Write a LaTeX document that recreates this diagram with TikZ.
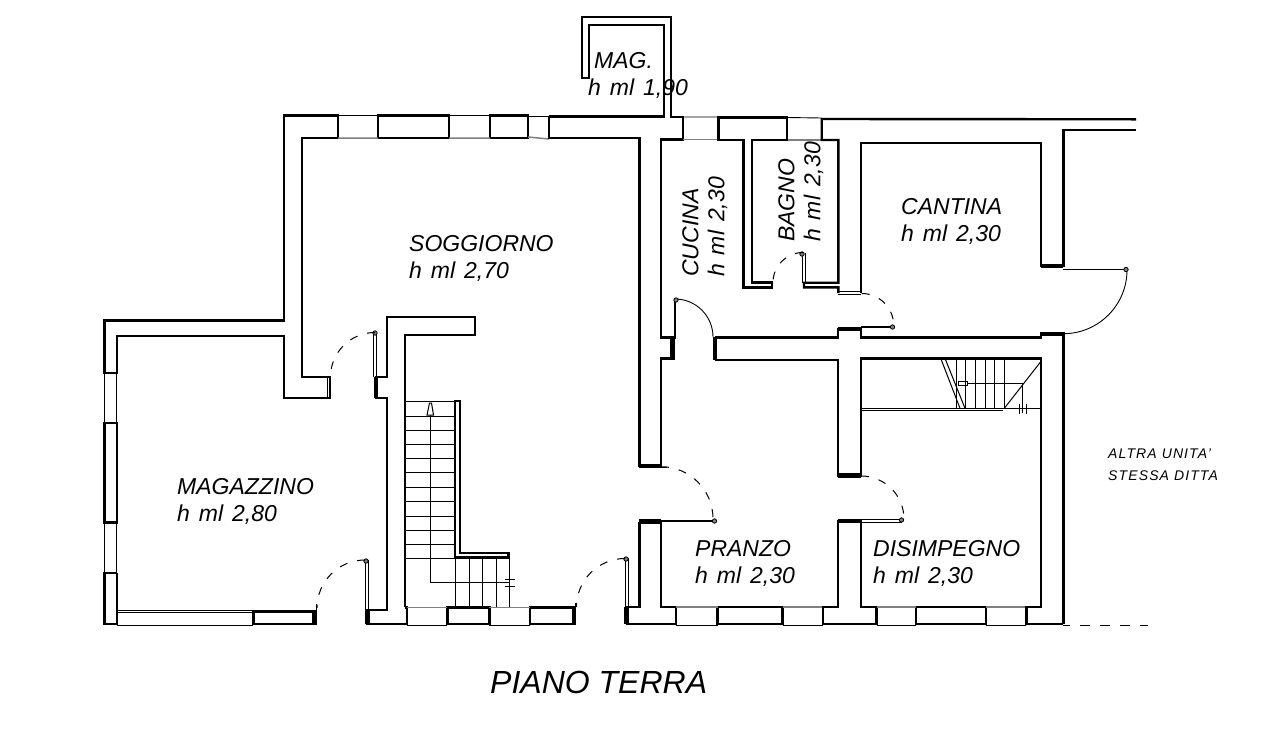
\documentclass[tikz,border=0pt]{standalone}
\usepackage{fontspec}
\setmainfont{Liberation Sans}
\newfontfamily\labelfont[WordSpace=1.4]{Liberation Sans}
\tikzset{
    wall/.style={line width=2.4pt,line join=miter},
    wallend/.style={line width=4.5pt},
    sill/.style={line width=0.9pt},
    glass/.style={line width=1.5pt,black!50},
    leaf/.style={line width=1.8pt},
    swing/.style={line width=0.9pt},
    swingdash/.style={line width=1pt,dash pattern=on 8pt off 10pt},
    stair/.style={line width=1pt},
    hinge/.style={line width=0.8pt,fill=black!50},
    roomlabel/.style={anchor=north west,inner sep=0pt,align=left,
        font=\fontsize{23}{27}\selectfont\labelfont\itshape},
    sidelabel/.style={roomlabel,rotate=90,
        font=\fontsize{23}{26}\selectfont\labelfont\itshape},
}

\begin{document}
\begin{tikzpicture}[x=1pt,y=1pt,yscale=-1]

\useasboundingbox (0,0) rectangle (1280,745);

% Magazzino
\draw [wall] (338,115.5) -- (284,115.5) -- (284,320.5) -- (104.5,320.5)
    -- (104.5,373) -- (117,373) -- (117,335.7) -- (284,335.7) -- (284,397.7)
    -- (330,397.7) -- (330,376.7) -- (301.7,376.7) -- (301.7,138) -- (338,138) -- cycle;
\draw [wall] (104.5,423) rectangle (117,522.5);
\draw [wall] (117,573) -- (104.5,573) -- (104.5,624) -- (117,624) -- (117,573);
\draw [wall] (117,611.5) -- (117,624);
\draw [wall] (253.3,611.5) rectangle (316,624);
\draw [wallend] (314.5,611.5) -- (314.5,624);
\draw [sill] (104.5,373) -- (104.5,423) (104.5,522.5) -- (104.5,573);
\draw [sill] (116,373) -- (116,423) (116,522.5) -- (116,573);
\draw [sill] (117,612.5) -- (253.3,612.5) (117,625) -- (253.3,625);
\draw [sill] (117,610) -- (253.3,610) (327,376.7) -- (327,397.7);
\draw [sill] (316.7,604) -- (316.7,611.5);

% Soggiorno
\draw [wall] (378,115.5) rectangle (449,138);
\draw [wall] (490,115.5) rectangle (528,138);
\draw [sill] (338,115.5) -- (378,115.5) (449,115.5) -- (490,115.5) (528,116) -- (549,116);
\draw [glass] (338,138) -- (378,138) (449,138) -- (490,138) (528,137) -- (549,139);
\draw [wall] (549,116.5) -- (549,138) -- (639.3,138) -- (639.3,466.7);
\draw [wallend] (639.3,466.2) -- (661,466.2);
\draw [sill] (661,467.5) -- (667,467.5);

% Mag.
\draw [wall] (549,116.5) -- (664,116.5) -- (664,25) -- (589,25) -- (589,78)
    -- (581.7,78) -- (581.7,16.7) -- (671,16.7) -- (671,116.7) -- (682.7,116.7)
    -- (682.7,139.5) -- (660.7,139.5) -- (660.7,337.3) -- (675,337.3) -- (675,300);

% Scala
\draw [wall] (405,607.3) -- (405,335) -- (475,335) -- (475,316.7) -- (386.7,316.7)
    -- (386.7,376.7) -- (376,376.7) -- (376,397.7) -- (386.7,397.7) -- (386.7,610)
    -- (367.3,610) -- (367.3,624) -- (406.7,624) -- (406.7,607.3) -- (405,607.3);
\draw [wallend] (376,376.7) -- (376,397.7) (367.3,610) -- (367.3,624);
\draw [wall] (455,557.3) -- (455,401) -- (460,401) -- (460,552.7) -- (508.3,552.7)
    -- (508.3,557.3) -- cycle;
\draw [stair] (405,401.7) -- (455,401.7) (405,416) -- (455,416) (405,430) -- (455,430)
    (405,444.3) -- (455,444.3) (405,458.7) -- (455,458.7) (405,472.7) -- (455,472.7)
    (405,487.7) -- (455,487.7) (405,501.7) -- (455,501.7) (405,516) -- (455,516)
    (405,530) -- (455,530) (405,544.3) -- (455,544.3) (405,558.3) -- (455,558.3);
\draw [stair] (455,557.3) -- (455,607.3) (469.3,557.3) -- (469.3,607.3)
    (482.3,557.3) -- (482.3,607.3) (496,557.3) -- (496,607.3) (509,557.3) -- (509,607.3);
\draw [stair] (430.7,415) -- (430.7,582.7) -- (509,582.7);
\draw [stair] (505,579.5) -- (515,579.5) (505,586) -- (515,586);
\draw [stair,fill=white] (427,415) -- (433.5,415) -- (431.5,403) -- (429.5,403) -- cycle;
\draw [wall] (447.3,607.3) rectangle (489.3,624);
\draw [wall] (530,607.3) rectangle (575,624);
\draw [wallend] (574,607.3) -- (574,624);
\draw [sill] (406.7,625.5) -- (447.3,625.5) (489.3,625.5) -- (530,625.5);
\draw [glass] (406.7,607.3) -- (447.3,607.3) (489.3,607.3) -- (530,607.3);
\draw [sill] (575.7,603) -- (575.7,607.3);

% Pranzo
\draw [wall] (639.3,521.7) -- (639.3,607) -- (626.7,607) -- (626.7,624) -- (676,624)
    -- (676,607) -- (661,607) -- (661,521.7);
\draw [wallend] (639.3,521.7) -- (661,521.7) (626.7,607) -- (626.7,624);
\draw [wall] (717.5,607) rectangle (782.5,624);
\draw [sill] (676,625.5) -- (717.5,625.5) (782.5,625.5) -- (823,625.5);
\draw [glass] (676,607) -- (717.5,607) (782.5,607) -- (823,607);

% Disimpegno
\draw [wall] (823,607) -- (838,607) -- (838,521) -- (861,521) -- (861,607)
    -- (876.5,607) -- (876.5,624) -- (823,624) -- cycle;
\draw [wallend] (838,521) -- (861,521);
\draw [wall] (916,607) rectangle (985.7,624);
\draw [sill] (876.5,625.5) -- (916,625.5) (985.7,625.5) -- (1026.3,625.5);
\draw [glass] (876.5,607) -- (916,607) (985.7,607) -- (1026.3,607);
\draw [wall] (715,360) -- (838,360) -- (838,476) -- (861,476) -- (861,358.3)
    -- (1040.7,358.3) -- (1040.7,607) -- (1026.3,607) -- (1026.3,624) -- (1063.3,624);
\draw [wallend] (838,475.5) -- (861,475.5);

% Scala disimpegno
\draw [stair] (956,358.3) -- (956,408.3) (965,358.3) -- (965,408.3) (975,358.3) -- (975,408.3)
    (985,358.3) -- (985,408.3) (994.3,358.3) -- (994.3,408.3) (1004.3,358.3) -- (1004.3,408.3);
\draw [stair] (861,408.3) -- (1040.7,408.3) (861,410.7) -- (1003,410.7);
\draw [stair] (940.7,358.3) -- (960,408.3) (945,358.3) -- (965,408.3);
\draw [stair] (1004.3,408.3) -- (1040.7,361.7);
\draw [stair] (967,383.3) -- (1022.7,383.3) -- (1022.7,413);
\draw [stair] (1019.3,404) -- (1019.3,414) (1026,404) -- (1026,414);
\draw [stair] (958,381) rectangle (967,385.5);

% Cucina e bagno
\draw [wall] (661,140) -- (683,140);
\draw [glass] (683,139.5) -- (718.3,139.5) (786.7,140) -- (821.7,140);
\draw [sill] (683,117) -- (718.3,117) (786.7,117.5) -- (821.7,118);
\draw [wall] (718.3,140) -- (718.3,117.3) -- (786.7,117.3) -- (786.7,140) -- (751.7,140)
    -- (751.7,282.3) -- (771.7,282.3) -- (771.7,287.3) -- (743.3,287.3) -- (743.3,140) -- cycle;
\draw [wall] (1136,119.3) -- (821.7,119) -- (821.7,140) -- (838.3,140) -- (838.3,282.7)
    -- (804,282.7) -- (804,287.3) -- (838.3,287.3) -- (838.3,293);
\draw [sill] (838.3,291.7) -- (861,291.7) (838.3,294.5) -- (861,294.5);

% Cantina
\draw [wall] (861,293) -- (861,142.7) -- (1040.7,142.7) -- (1040.7,265.7)
    -- (1063.3,265.7) -- (1063.3,130) -- (1136,130);
\draw [wallend] (1040.7,266) -- (1063.3,266);

% Corridoio
\draw [wall] (715,337.3) -- (838,337.3) -- (838,329) -- (861,329) -- (861,337.3)
    -- (1040.7,337.3) -- (1040.7,333.3) -- (1063.3,333.3) -- (1063.3,624);
\draw [wallend] (838,329) -- (861,329) (1040.7,334) -- (1063.3,334);
\draw [wallend] (715,337.3) -- (715,360) (672.7,337.3) -- (672.7,360);
\draw [wall] (672.7,358.5) -- (661,358.5) -- (661,466.7);

% Porte
\draw [leaf] (1063.3,269.5) -- (1125,269.5);
\draw [swing] (1127,270) arc [start angle=0,end angle=90,radius=63.7];
\draw [hinge] (1126,269.5) circle (2.2);
\draw [swing] (675,299) arc [start angle=270,end angle=360,radius=38];
\draw [hinge] (676,300) circle (2.2);
\draw [leaf] (861,326.7) -- (893,326.7);
\draw [hinge] (892.5,327) circle (2.2);
\draw [swingdash] (861.7,293.5) arc [start angle=270,end angle=360,radius=32];
\draw [leaf] (661,521) -- (714.7,521);
\draw [hinge] (714.5,521) circle (2.2);
\draw [swingdash] (661,466.7) arc [start angle=270,end angle=360,radius=52];
\draw [sill] (861,519.5) -- (902,519.5) (861,522.5) -- (902,522.5);
\draw [hinge] (901.5,520) circle (2.2);
\draw [swingdash] (861,476) arc [start angle=270,end angle=360,radius=43];
\draw [sill] (802,253) -- (802,282.7) (805,253) -- (805,282.7);
\draw [hinge] (802,254) circle (2.2);
\draw [swingdash] (803,252.5) arc [start angle=270,end angle=180,radius=30];
\draw [sill] (373.5,334) -- (373.5,376.7) (376.5,334) -- (376.5,376.7);
\draw [hinge] (375,333) circle (2.2);
\draw [swingdash] (375,332.5) arc [start angle=270,end angle=180,radius=44.5];
\draw [sill] (365,560) -- (365,610) (368,560) -- (368,610);
\draw [hinge] (366,561) circle (2.2);
\draw [swingdash] (365,560) arc [start angle=270,end angle=180,radius=48];
\draw [sill] (625,558) -- (625,607) (628,558) -- (628,607);
\draw [hinge] (626,559) circle (2.2);
\draw [swingdash] (625,558.5) arc [start angle=270,end angle=180,radius=48.5];

% Linea di confine
\draw [sill] (1063.3,625) -- (1070,625);
\draw [sill,dash pattern=on 10pt off 10pt] (1080,625) -- (1148,625);

% Scritte
\node [roomlabel] (mag) at (588,52) {\hspace*{6pt}MAG.\\h ml 1,90};
\node [roomlabel] (soggiorno) at (409,235) {SOGGIORNO\\h ml 2,70};
\node [roomlabel] (magazzino) at (177,478.5) {MAGAZZINO\\h ml 2,80};
\node [roomlabel] (cantina) at (901,198.5) {CANTINA\\h ml 2,30};
\node [roomlabel] (pranzo) at (695,540) {PRANZO\\h ml 2,30};
\node [roomlabel] (disimpegno) at (873,540) {DISIMPEGNO\\h ml 2,30};
\node [sidelabel] (cucina) at (682,277) {CUCINA\\h ml 2,30};
\node [sidelabel] (bagno) at (778,242) {BAGNO\\h ml 2,30};
\node [anchor=north west,inner sep=0pt,align=left,
    font=\fontsize{14}{22}\selectfont\itshape\addfontfeature{LetterSpace=8}] (altra) at (1108,449)
    {ALTRA UNITA'\\STESSA DITTA};
\node [anchor=north west,inner sep=0pt,font=\fontsize{32}{36}\selectfont\itshape] (piano) at (490,671) {PIANO TERRA};

\end{tikzpicture}
\end{document}
